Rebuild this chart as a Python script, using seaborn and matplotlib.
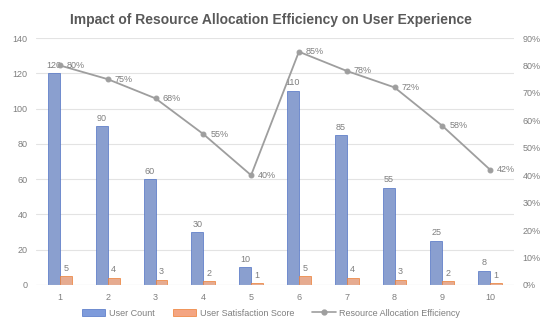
import matplotlib
matplotlib.use("Agg")
import matplotlib.pyplot as plt
import seaborn as sns
import pandas as pd
import numpy as np
from matplotlib.lines import Line2D
from matplotlib.patches import Patch

categories = ["1", "2", "3", "4", "5", "6", "7", "8", "9", "10"]
user_count = [120, 90, 60, 30, 10, 110, 85, 55, 25, 8]
satisfaction = [5, 4, 3, 2, 1, 5, 4, 3, 2, 1]
efficiency = [80, 75, 68, 55, 40, 85, 78, 72, 58, 42]

sns.set_style("white")
plt.rcParams['font.family'] = ['Liberation Sans', 'DejaVu Sans']

df = pd.DataFrame({
    "cat": categories * 2,
    "value": user_count + satisfaction,
    "series": ["User Count"] * 10 + ["User Satisfaction Score"] * 10,
})

blue = "#7E9BDB"
blue_edge = "#4F72C4"
orange = "#F4A582"
orange_edge = "#ED7D31"
gray = "#9E9E9E"
txt = "#7F7F7F"

fig = plt.figure(figsize=(5.42, 3.28), dpi=100)
ax = fig.add_axes([36/542, 43/328, 478/542, 247/328])

sns.barplot(data=df, x="cat", y="value", hue="series", order=categories,
            palette=[blue, orange], width=0.5, ax=ax, legend=False,
            edgecolor=None, linewidth=0)
for i, p in enumerate(ax.patches[:20]):
    if i < 10:
        p.set_edgecolor(blue_edge)
    else:
        p.set_edgecolor(orange_edge)
    p.set_linewidth(0.5)

ax.set_ylim(0, 140)
ax.set_yticks(range(0, 141, 20))
ax.set_xlim(-0.5, 9.5)
ax.grid(axis="y", color="#E3E3E3", linewidth=0.8)
ax.set_axisbelow(True)
for s in ax.spines.values():
    s.set_visible(False)
ax.axhline(0, color="#D9D9D9", linewidth=0.8)
ax.set_xlabel("")
ax.set_ylabel("")
ax.tick_params(axis="both", length=0, labelsize=6.5, colors=txt, pad=6)

for i in range(10):
    ax.text(i - 0.125, user_count[i] + 2, str(user_count[i]), ha="center",
            va="bottom", fontsize=6.5, color=txt)
    ax.text(i + 0.125, satisfaction[i] + 2, str(satisfaction[i]), ha="center",
            va="bottom", fontsize=6.5, color=txt)

ax2 = ax.twinx()
xs = np.arange(10)
sns.lineplot(x=xs, y=efficiency, ax=ax2, color=gray, marker="o",
             markersize=3.5, linewidth=1.3, markeredgecolor=gray)
ax2.set_ylim(0, 90)
ax2.set_yticks(range(0, 91, 10))
ax2.set_yticklabels([f"{v}%" for v in range(0, 91, 10)])
ax2.tick_params(axis="y", length=0, labelsize=6.5, colors=txt, pad=6)
for s in ax2.spines.values():
    s.set_visible(False)
ax2.set_ylabel("")
for i, v in enumerate(efficiency):
    ax2.text(i + 0.15, v, f"{v}%", ha="left", va="center", fontsize=6.5, color=txt)

fig.text(0.5, 0.94, "Impact of Resource Allocation Efficiency on User Experience",
         ha="center", va="center", fontsize=10, color="#595959", fontweight="bold")

handles = [
    Patch(facecolor=blue, edgecolor=blue_edge, linewidth=0.5),
    Patch(facecolor=orange, edgecolor=orange_edge, linewidth=0.5),
    Line2D([0], [0], color=gray, marker="o", markersize=3.5, linewidth=1.2),
]
labels = ["User Count", "User Satisfaction Score", "Resource Allocation Efficiency"]
fig.legend(handles, labels, loc="center", bbox_to_anchor=(0.5, 0.045), ncol=3,
           frameon=False, fontsize=6.5, labelcolor=txt, handlelength=2.6,
           handleheight=0.8, columnspacing=2.0, handletextpad=0.4)

fig.savefig("out.png", dpi=100)
